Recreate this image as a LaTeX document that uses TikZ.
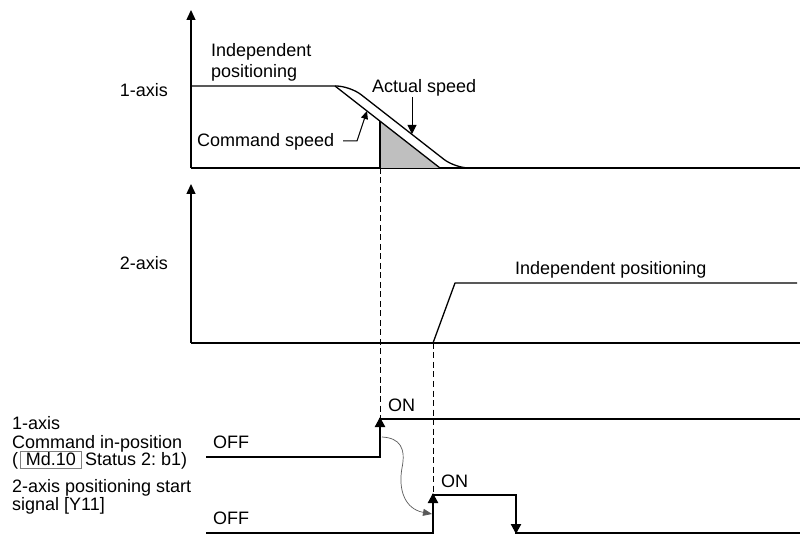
\documentclass[tikz,border=0pt]{standalone}
\usepackage{fontspec}
\setmainfont{Liberation Sans}
\usetikzlibrary{arrows.meta}
\frenchspacing
\newcommand\mdbox[1]{\kern1.5pt{\fboxsep=0pt\fboxrule=0.7pt\fcolorbox{gray}{white}{\kern5.5pt\rule[-3pt]{0pt}{16pt}#1\kern5.5pt}}\kern3pt}
\begin{document}
\begin{tikzpicture}[x=1pt,y=-1pt,
  txt/.style={inner sep=0pt,anchor=base west,font=\fontsize{18}{17}\selectfont},
  ax/.style={line width=1.3pt,line cap=butt},
  sig/.style={line width=2.2pt},
  tri/.style={-{Triangle[width=10pt,length=10pt]}},
  smalltri/.style={-{Triangle[width=7pt,length=8pt]}},
  dsh/.style={line width=0.9pt,dash pattern=on 6pt off 3.5pt}]
\useasboundingbox (0,0) rectangle (803,534);
% coordinates
\coordinate (o1) at (191,168);
\coordinate (t1) at (191,10);
\coordinate (e1) at (800,168);
\coordinate (o2) at (191,343);
\coordinate (t2) at (191,184);
\coordinate (e2) at (800,343);
% axes
\draw[ax,-{Triangle[width=9pt,length=10pt]}] (o1) -- (t1);
\draw[ax] (o1) -- (e1);
\draw[ax,-{Triangle[width=9pt,length=10pt]}] (o2) -- (t2);
\draw[ax] (o2) -- (e2);
% gray triangle
\fill[gray!50] (380,121.1) -- (440,168) -- (380,168) -- cycle;
\draw[line width=1.1pt] (380,121.1) -- (380,168);
% speed curves
\draw[ax,line join=round] (191,86) -- (335,86) -- (440,168);
\draw[ax,rounded corners=14pt] (335,86) -- (350,86) -- (455,168) -- (468,168);
% 2-axis
\draw[ax,line join=round] (433,343) -- (455,283) -- (797,283);
% labels top
\node[txt,anchor=base east] (l1) at (168,97) {1-axis};
\node[txt,anchor=base east] (l2) at (168,270) {2-axis};
\node[txt] (ip1) at (211,57) {Independent};
\node[txt] (ip1b) at (211,78) {positioning};
\node[txt] (as) at (372,93) {Actual speed};
\node[txt] (cs) at (197,147) {Command speed};
\node[txt] (ip2) at (515,275) {Independent positioning};
% leaders
\coordinate (csend) at (367,111);
\draw[line width=1pt,smalltri] (343,141) -- (357,141) -- (csend);
\draw[line width=1pt,-{Triangle[width=9pt,length=9pt]}] (412,97) -- (412,134);
% dashed
\draw[dsh] (380,168) -- (380,418);
\draw[dsh] (433,343) -- (433,494);
% signals
\draw[sig] (206,457) -- (380,457) -- (380,419) -- (800,419);
\draw[sig] (206,533) -- (433,533) -- (433,495) -- (516,495) -- (516,533) -- (800,533);
\draw[sig,tri] (380,440) -- (380,417);
\draw[sig,tri] (433,515) -- (433,493);
\draw[sig,tri] (516,510) -- (516,534);
% curvy connector
\draw[gray!70!black,line width=0.7pt,-{Triangle[width=7pt,length=9pt]}] (382,437) .. controls (400,438) and (406,448) .. (402,468) .. controls (398,490) and (405,509) .. (432,514);
% signal labels
\node[txt] (on1) at (388,411) {ON};
\node[txt] (on2) at (441,487) {ON};
\node[txt] (off1) at (213,448) {OFF};
\node[txt] (off2) at (213,524) {OFF};
\node[txt] (s1a) at (12,429) {1-axis};
\node[txt] (s1b) at (12,448) {Command in-position};
\node[txt] (s1c) at (12,465) {(\mdbox{Md.10}Status 2: b1)};
\node[txt] (s2a) at (12,492) {2-axis positioning start};
\node[txt] (s2b) at (12,510) {signal [Y11]};
\end{tikzpicture}
\end{document}
